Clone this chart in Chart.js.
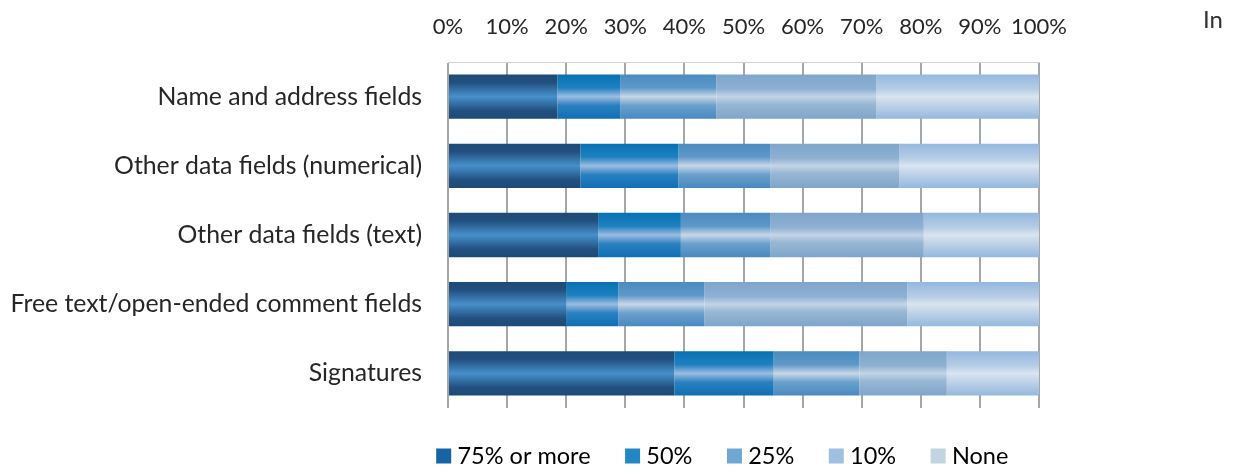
<!DOCTYPE html>
<html>
<head>
<meta charset="utf-8">
<script src="https://cdn.jsdelivr.net/npm/chart.js@4.4.0/dist/chart.umd.min.js"></script>
<style>
  html, body { margin: 0; padding: 0; background: #fff; }
  #wrap { position: relative; width: 1236px; height: 468px; }
  #note { position: absolute; left: 1203px; top: 4px; font: 24px Lato, sans-serif; color: #333; }
</style>
</head>
<body>
<div id="wrap">
  <canvas id="chart" width="1236" height="468"></canvas>
  <span id="note">In</span>
</div>
<script>
// Share of each field type, stacked to 100%.
const categories = [
  'Name and address fields',
  'Other data fields (numerical)',
  'Other data fields (text)',
  'Free text/open-ended comment fields',
  'Signatures',
];
const seriesNames = ['75% or more', '50%', '25%', '10%', 'None'];
const s75 = [18.5, 22.4, 25.4, 20.0, 38.3];
const s50 = [10.7, 16.6, 14.0, 8.8, 16.8];
const s25 = [16.2, 15.5, 15.1, 14.6, 14.5];
const s10 = [27.1, 21.9, 26.0, 34.3, 14.8];
const sNone = [27.5, 23.6, 19.5, 22.3, 15.6];
const xTicks = [0, 10, 20, 30, 40, 50, 60, 70, 80, 90, 100];

const BAR_PCT = 0.64;
const FONT = 'Lato, sans-serif';
const ink = '#262626';
const LEG_FONT = 23.5;
const LEG_PAD = 40;

// cylinder-ish vertical shading per series
const shades = [
  [[0, '#1f4a77'], [0.18, '#21507f'], [0.5, '#4690cb'], [0.82, '#21507f'], [1, '#1f4a77']],
  [[0, '#0572b3'], [0.3, '#1f80c0'], [0.5, '#9cbce0'], [0.7, '#2a80c0'], [1, '#0f6fb3']],
  [[0, '#4a8bc1'], [0.3, '#5e98c9'], [0.5, '#c8d7e7'], [0.7, '#6aa0cc'], [1, '#4889c0']],
  [[0, '#7fa5ca'], [0.33, '#8eb1d3'], [0.5, '#c3d4e5'], [0.67, '#98b7d5'], [1, '#7fa5ca']],
  [[0, '#94b8df'], [0.33, '#b6cde6'], [0.5, '#d9e5ef'], [0.67, '#c2d4e8'], [1, '#94b8df']],
];
const legendFills = ['#1664a4', '#2188c4', '#6fa8d3', '#9fc0e0', '#c0d4e2'];

function barFill(stops) {
  return (ctx) => {
    const chart = ctx.chart;
    const y = chart.scales.y;
    if (!chart.chartArea || !y || ctx.dataIndex == null) return stops[2][1];
    const band = (y.bottom - y.top) / categories.length;
    const h = band * BAR_PCT;
    const cy = y.getPixelForValue(ctx.dataIndex);
    const g = chart.ctx.createLinearGradient(0, cy - h / 2, 0, cy + h / 2);
    stops.forEach(([o, c]) => g.addColorStop(o, c));
    return g;
  };
}

const seriesData = [s75, s50, s25, s10, sNone];
const datasets = seriesData.map((d, i) => ({
  label: seriesNames[i],
  data: d,
  backgroundColor: barFill(shades[i]),
  borderWidth: 0,
  categoryPercentage: 1,
  barPercentage: BAR_PCT,
}));

// nudge the legend to where the original sits (legend clips to its own box,
// so only the top moves)
const legendShift = {
  id: 'legendShift',
  afterLayout(chart) {
    const lg = chart.legend;
    if (!lg) return;
    const dx = 725 - (lg.left + lg.right) / 2;
    lg.left += dx; lg.right += dx;
    lg.top = 456 - LEG_PAD - LEG_FONT / 2;
    lg.bottom = 468;
  },
};

new Chart(document.getElementById('chart'), {
  type: 'bar',
  data: { labels: categories, datasets },
  plugins: [legendShift],
  options: {
    indexAxis: 'y',
    responsive: false,
    animation: false,
    layout: { padding: { top: 0, right: 197, bottom: 0, left: 0 } },
    scales: {
      x: {
        position: 'top',
        stacked: true,
        min: 0, max: 100,
        afterBuildTicks: (s) => { s.ticks = xTicks.map((v) => ({ value: v })); },
        afterFit: (s) => { s.height = 62; },
        ticks: {
          callback: (v) => v + '%',
          color: ink, padding: 22, maxRotation: 0, autoSkip: false,
          font: { family: FONT, size: 22 },
        },
        grid: { color: '#a4a6a9', lineWidth: 2, drawTicks: false },
        border: { color: '#d4d4d4', width: 1 },
      },
      y: {
        stacked: true,
        afterFit: (s) => { s.width = 448; },
        ticks: { color: ink, padding: 26, font: { family: FONT, size: 24.8 } },
        grid: { display: false, drawTicks: false },
        border: { display: false },
      },
    },
    plugins: {
      tooltip: { enabled: false },
      legend: {
        position: 'bottom',
        maxHeight: 60,
        labels: {
          usePointStyle: true, pointStyle: 'rect',
          boxWidth: 4, boxHeight: 15, padding: LEG_PAD,
          color: ink, font: { family: FONT, size: LEG_FONT },
          generateLabels: (chart) => chart.data.datasets.map((ds, i) => ({
            text: ds.label, fillStyle: legendFills[i], strokeStyle: legendFills[i],
            lineWidth: 0, hidden: false, datasetIndex: i, pointStyle: 'rect',
          })),
        },
      },
    },
  },
});
</script>
</body>
</html>
